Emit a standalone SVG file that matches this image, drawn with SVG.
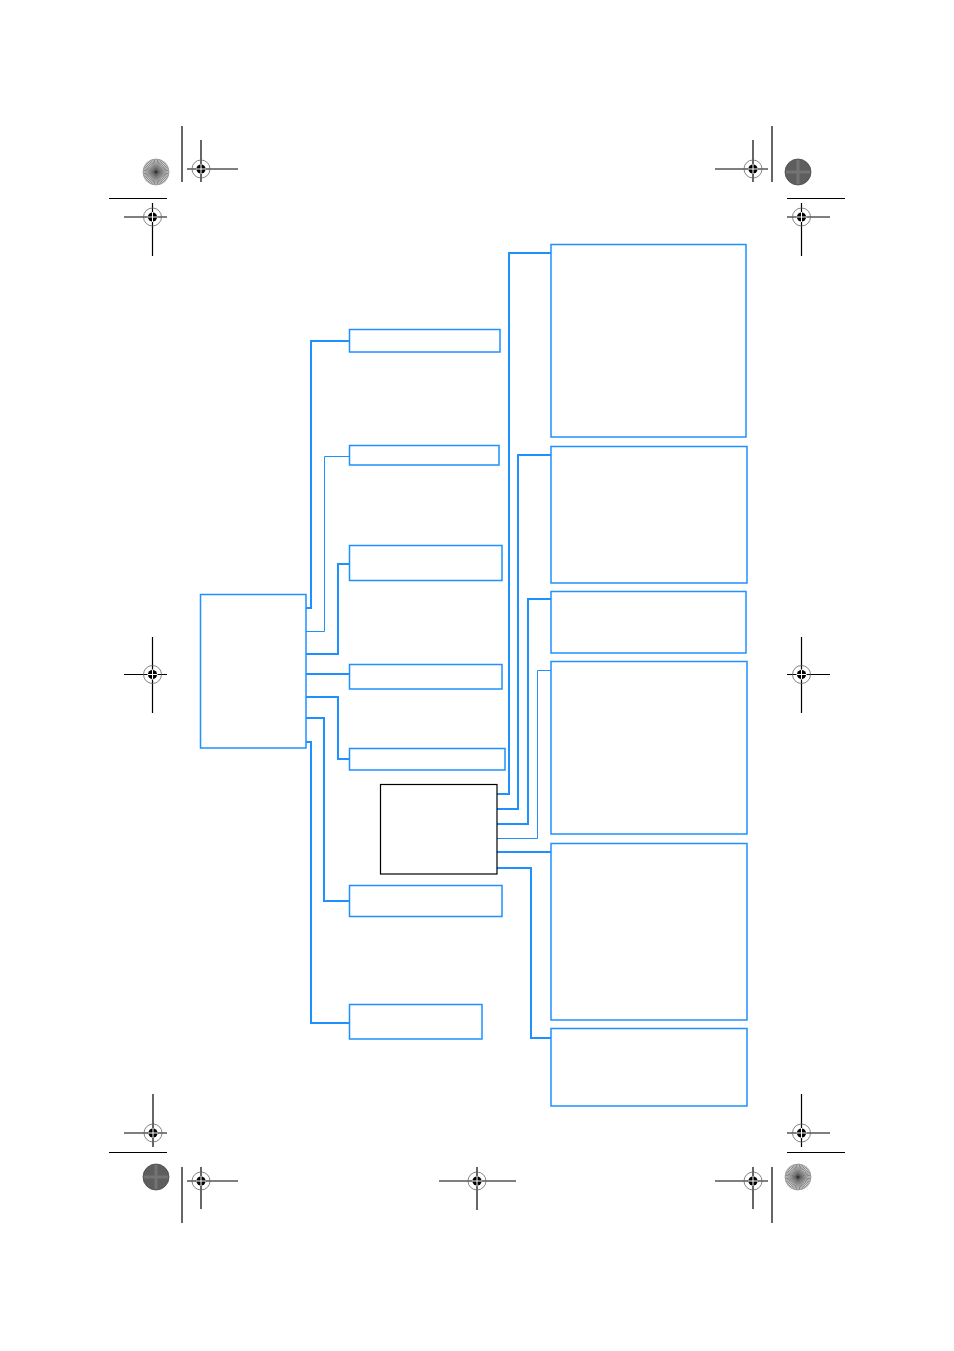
<svg xmlns="http://www.w3.org/2000/svg" width="954" height="1351" viewBox="0 0 954 1351">
<style>
.b{fill:#fff;stroke:#1e90ff;stroke-width:1.5}
.bk{fill:#fff;stroke:#000;stroke-width:1.2}
.c{fill:none;stroke:#1e90ff;stroke-width:2}
.ct{fill:none;stroke:#1e90ff;stroke-width:1}
.k{stroke:#000;stroke-width:1.2;fill:none}
.rc{fill:none;stroke:#666;stroke-width:0.8}
.rx{stroke:#fff;stroke-width:1}
.sb{stroke:#555;stroke-width:0.6}
</style>
<defs>
<g id="reg">
<circle r="9" class="rc"/>
<circle r="4.6" fill="#000"/>
<line x1="-5" y1="0" x2="5" y2="0" class="rx"/>
<line x1="0" y1="-5" x2="0" y2="5" class="rx"/>
</g>
<g id="spokes" class="sb">
<line x1="-13" y1="0" x2="13" y2="0"/><line x1="0" y1="-13" x2="0" y2="13"/>
<line x1="-9.2" y1="-9.2" x2="9.2" y2="9.2"/><line x1="-9.2" y1="9.2" x2="9.2" y2="-9.2"/>
<line x1="-12" y1="-5" x2="12" y2="5"/><line x1="-12" y1="5" x2="12" y2="-5"/>
<line x1="-5" y1="-12" x2="5" y2="12"/><line x1="5" y1="-12" x2="-5" y2="12"/>
</g>
<g id="star">
<circle r="13" fill="#ddd"/>
<use href="#spokes"/>
<use href="#spokes" transform="rotate(7.5)"/>
<use href="#spokes" transform="rotate(15)"/>
<circle r="13" fill="none" stroke="#888" stroke-width="0.6"/>
<circle r="1.5" fill="#333"/>
</g>
<g id="dark">
<circle r="13" fill="#5e5e5e"/>
<path d="M-13 0H13M0-13V13" stroke="#737373" stroke-width="3"/>
<circle r="13" fill="none" stroke="#4a4a4a" stroke-width="0.8"/>
</g>
</defs>

<g id="marks">
<line x1="182" y1="126" x2="182" y2="182" class="k"/>
<line x1="187" y1="169" x2="238" y2="169" class="k"/>
<line x1="201" y1="140" x2="201" y2="182" class="k"/>
<use href="#reg" x="201" y="169"/>
<use href="#star" x="156" y="172"/>
<line x1="109" y1="198.5" x2="167" y2="198.5" class="k"/>
<line x1="124" y1="217" x2="167" y2="217" class="k"/>
<line x1="152.5" y1="203" x2="152.5" y2="256" class="k"/>
<use href="#reg" x="152.5" y="217"/>

<line x1="772" y1="126" x2="772" y2="182" class="k"/>
<line x1="715" y1="169" x2="768" y2="169" class="k"/>
<line x1="753" y1="140" x2="753" y2="182" class="k"/>
<use href="#reg" x="753" y="169"/>
<use href="#dark" x="798" y="172"/>
<line x1="787" y1="198.5" x2="845" y2="198.5" class="k"/>
<line x1="787" y1="217" x2="830" y2="217" class="k"/>
<line x1="801.5" y1="203" x2="801.5" y2="256" class="k"/>
<use href="#reg" x="801.5" y="217"/>

<line x1="124" y1="674.5" x2="167" y2="674.5" class="k"/>
<line x1="152.5" y1="637" x2="152.5" y2="713" class="k"/>
<use href="#reg" x="152.5" y="674.5"/>
<line x1="787" y1="674.5" x2="830" y2="674.5" class="k"/>
<line x1="801.5" y1="637" x2="801.5" y2="713" class="k"/>
<use href="#reg" x="801.5" y="674.5"/>

<line x1="124" y1="1133" x2="167" y2="1133" class="k"/>
<line x1="153" y1="1094" x2="153" y2="1147" class="k"/>
<use href="#reg" x="153" y="1133"/>
<line x1="109" y1="1152.5" x2="167" y2="1152.5" class="k"/>
<use href="#dark" x="156" y="1177"/>
<line x1="182" y1="1167" x2="182" y2="1223" class="k"/>
<line x1="187" y1="1181" x2="238" y2="1181" class="k"/>
<line x1="201" y1="1167" x2="201" y2="1209" class="k"/>
<use href="#reg" x="201" y="1181"/>

<line x1="439" y1="1181" x2="516" y2="1181" class="k"/>
<line x1="477" y1="1167" x2="477" y2="1210" class="k"/>
<use href="#reg" x="477" y="1181"/>

<line x1="715" y1="1181" x2="768" y2="1181" class="k"/>
<line x1="753" y1="1167" x2="753" y2="1209" class="k"/>
<use href="#reg" x="753" y="1181"/>
<line x1="772" y1="1167" x2="772" y2="1223" class="k"/>
<use href="#star" x="798" y="1177"/>
<line x1="787" y1="1152.5" x2="845" y2="1152.5" class="k"/>
<line x1="787" y1="1133" x2="830" y2="1133" class="k"/>
<line x1="801.5" y1="1094" x2="801.5" y2="1147" class="k"/>
<use href="#reg" x="801.5" y="1133"/>
</g>

<g id="connectors">
<polyline class="c" points="306,608 311,608 311,341 349,341"/>
<polyline class="ct" points="306,631.5 324.5,631.5 324.5,456.5 349,456.5"/>
<polyline class="c" points="306,654 338,654 338,564 349,564"/>
<polyline class="c" points="306,674 349,674"/>
<polyline class="c" points="306,697 338,697 338,759 349,759"/>
<polyline class="c" points="306,718 324,718 324,901 349,901"/>
<polyline class="c" points="306,742 311,742 311,1023 349,1023"/>
<polyline class="c" points="497,794 509,794 509,253 551,253"/>
<polyline class="c" points="497,809 518,809 518,455 551,455"/>
<polyline class="c" points="497,824 528,824 528,599 551,599"/>
<polyline class="ct" points="497,838.5 537.5,838.5 537.5,670.5 551,670.5"/>
<polyline class="c" points="497,852 551,852"/>
<polyline class="c" points="497,868 531,868 531,1038 551,1038"/>
</g>

<g id="root"><rect class="b" x="200.5" y="594.5" width="105.5" height="153.5"/></g>
<g id="n1"><rect class="b" x="349.5" y="329.5" width="150.5" height="22.5" stroke-width="2"/></g>
<g id="n2"><rect class="b" x="349.5" y="445.5" width="149.5" height="19.5"/></g>
<g id="n3"><rect class="b" x="349.5" y="545.5" width="152.5" height="35" stroke-width="2"/></g>
<g id="n4"><rect class="b" x="349.5" y="664.5" width="152.5" height="24.5"/></g>
<g id="n5"><rect class="b" x="349.5" y="748.5" width="155.5" height="21.5" stroke-width="2"/></g>
<g id="hub"><rect class="bk" x="380.5" y="784.5" width="116.5" height="89.5"/></g>
<g id="n6"><rect class="b" x="349.5" y="885.5" width="152.5" height="31" stroke-width="2"/></g>
<g id="n7"><rect class="b" x="349.5" y="1004.5" width="132.5" height="34.5"/></g>
<g id="r1"><rect class="b" x="551" y="244.5" width="195" height="192.5" stroke-width="2"/></g>
<g id="r2"><rect class="b" x="551" y="446.5" width="196" height="136.5" stroke-width="2"/></g>
<g id="r3"><rect class="b" x="551" y="591.5" width="195" height="61.5" stroke-width="2"/></g>
<g id="r4"><rect class="b" x="551" y="661.5" width="196" height="172.5" stroke-width="2"/></g>
<g id="r5"><rect class="b" x="551" y="843.5" width="196" height="176.5" stroke-width="2"/></g>
<g id="r6"><rect class="b" x="551" y="1028.5" width="196" height="77.5" stroke-width="2"/></g>
</svg>
